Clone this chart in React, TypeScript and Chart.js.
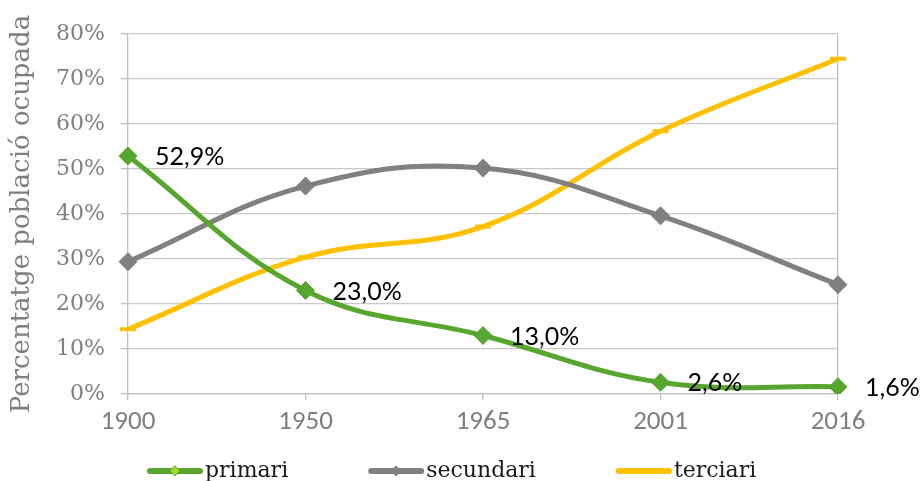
import React, { useEffect, useRef } from "react";
import { Chart, registerables } from "chart.js";

Chart.register(...registerables);

const years = ["1900", "1950", "1965", "2001", "2016"];
const primari = [52.9, 23.0, 13.0, 2.6, 1.6];
const secundari = [29.4, 46.2, 50.2, 39.6, 24.3];
const terciari = [14.4, 30.4, 37.2, 58.4, 74.5];
const seriesNames = ["primari", "secundari", "terciari"];
const yMin = 0;
const yMax = 80;
const yStep = 10;
const axisTitle = "Percentatge població ocupada";

const GREEN = "#58A52F";
const GRAY = "#808080";
const YELLOW = "#FFC000";
const SLAB = '"DejaVu Serif", serif';
const NARROW = '"Carlito", "Liberation Sans Narrow", "Liberation Sans", sans-serif';
const LABEL_FONT = 'Lato, "Open Sans", sans-serif';

const fmt = (v: number) => v.toFixed(1).replace(".", ",") + "%";

const dataLabelPlugin = {
  id: "dataLabels",
  afterDatasetsDraw(chart: any) {
    const ctx = chart.ctx;
    const meta = chart.getDatasetMeta(0);
    const vals = chart.data.datasets[0].data as number[];
    ctx.save();
    ctx.font = `25px ${LABEL_FONT}`;
    ctx.fillStyle = "#000";
    ctx.textAlign = "left";
    ctx.textBaseline = "middle";
    meta.data.forEach((pt: any, i: number) => {
      ctx.fillText(fmt(vals[i]), pt.x + 27, pt.y + 1);
    });
    ctx.restore();
  },
};

const legendPlugin = {
  id: "customLegend",
  afterDraw(chart: any) {
    const ctx = chart.ctx;
    ctx.save();
    ctx.font = `22px ${SLAB}`;
    const y = 471;
    let x = 147;
    chart.data.datasets.forEach((ds: any, i: number) => {
      ctx.strokeStyle = ds.borderColor;
      ctx.lineWidth = 6;
      ctx.lineCap = "round";
      ctx.beginPath();
      ctx.moveTo(x + 3, y);
      ctx.lineTo(x + 53, y);
      ctx.stroke();
      if (ds.pointStyle === "rectRot") {
        const cx = x + 28;
        const r = 5;
        ctx.fillStyle = i === 0 ? "#A9D42C" : ds.borderColor;
        ctx.strokeStyle = ds.borderColor;
        ctx.lineWidth = 1;
        ctx.beginPath();
        ctx.moveTo(cx, y - r);
        ctx.lineTo(cx + r, y);
        ctx.lineTo(cx, y + r);
        ctx.lineTo(cx - r, y);
        ctx.closePath();
        ctx.fill();
        ctx.stroke();
      }
      ctx.fillStyle = "#1a1a1a";
      ctx.textAlign = "left";
      ctx.textBaseline = "alphabetic";
      ctx.fillText(ds.label, x + 58, y + 6);
      x += 58 + ctx.measureText(ds.label).width + 80;
    });
    ctx.restore();
  },
};

export default function App() {
  const ref = useRef<HTMLCanvasElement | null>(null);
  useEffect(() => {
    if (!ref.current) return;
    const chart = new Chart(ref.current, {
      type: "line",
      data: {
        labels: years,
        datasets: [
          {
            label: seriesNames[0],
            data: primari,
            borderColor: GREEN,
            backgroundColor: GREEN,
            borderWidth: 5,
            tension: 0.4,
            pointStyle: "rectRot",
            pointRadius: 9,
            pointBackgroundColor: GREEN,
            pointBorderColor: GREEN,
            pointBorderWidth: 1,
          },
          {
            label: seriesNames[1],
            data: secundari,
            borderColor: GRAY,
            backgroundColor: GRAY,
            borderWidth: 5,
            tension: 0.4,
            pointStyle: "rectRot",
            pointRadius: 9,
            pointBackgroundColor: GRAY,
            pointBorderColor: GRAY,
            pointBorderWidth: 1,
          },
          {
            label: seriesNames[2],
            data: terciari,
            borderColor: YELLOW,
            backgroundColor: YELLOW,
            borderWidth: 5,
            tension: 0.4,
            pointStyle: "line",
            pointRadius: 8,
            pointBackgroundColor: YELLOW,
            pointBorderColor: YELLOW,
            pointBorderWidth: 4,
          },
        ],
      },
      options: {
        animation: false,
        responsive: false,
        devicePixelRatio: 1,
        layout: { padding: { left: 0, top: 34, right: 82, bottom: 0 } },
        plugins: {
          legend: { display: false },
          tooltip: { enabled: false },
        },
        scales: {
          x: {
            type: "category",
            offset: false,
            grid: {
              color: (c: any) => (c.index === years.length - 1 ? "#BFBFBF" : "rgba(0,0,0,0)"),
              tickColor: "#BFBFBF",
              tickLength: 6,
              lineWidth: 1.3,
            },
            border: { color: "#BFBFBF", width: 1.3 },
            ticks: {
              font: { family: NARROW, size: 27 },
              color: "#7F7F7F",
              padding: 6,
              maxRotation: 0,
              autoSkip: false,
            },
            afterFit: (s: any) => {
              s.height = 87;
            },
          },
          y: {
            min: yMin,
            max: yMax,
            ticks: {
              stepSize: yStep,
              callback: (v: any) => v + "%",
              font: { family: SLAB, size: 22 },
              color: "#7F7F7F",
              padding: 16,
            },
            grid: { color: "#C9C9C9", tickColor: "#BFBFBF", tickLength: 7, lineWidth: 1.3 },
            border: { color: "#BFBFBF", width: 1.3 },
            title: {
              display: true,
              text: axisTitle,
              font: { family: SLAB, size: 26 },
              color: "#7F7F7F",
              padding: { top: 7, bottom: 0 },
            },
            afterFit: (s: any) => {
              s.width = 128;
            },
          },
        },
      },
      plugins: [dataLabelPlugin, legendPlugin],
    });
    return () => chart.destroy();
  }, []);

  return (
    <div style={{ position: "fixed", left: 0, top: 0, width: 920, height: 481, background: "#fff" }}>
      <canvas ref={ref} width={920} height={481} style={{ display: "block", width: 920, height: 481 }} />
    </div>
  );
}
